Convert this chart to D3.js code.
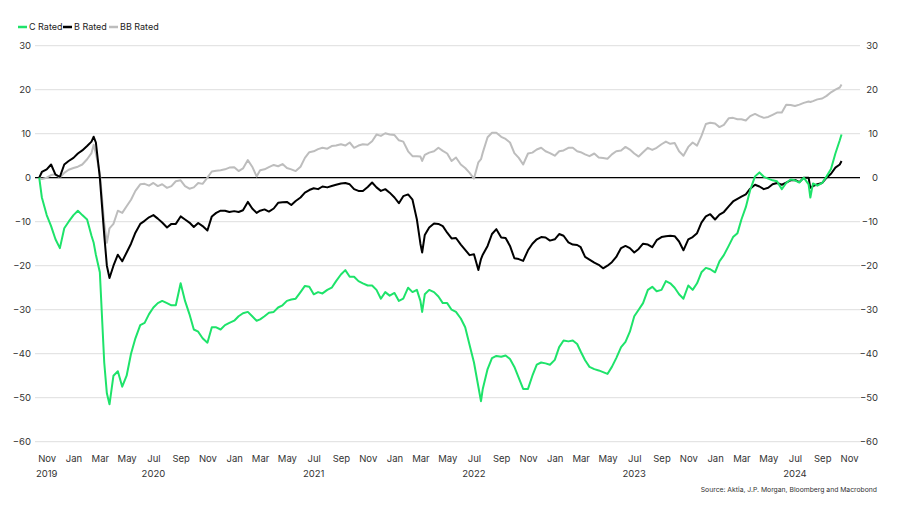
<!DOCTYPE html>
<html>
<head>
<meta charset="utf-8">
<script src="https://cdn.jsdelivr.net/npm/d3@7"></script>
<style>
  html, body { margin: 0; padding: 0; background: #fff; }
  svg { display: block; font-family: Inter, "Noto Sans", sans-serif; }
</style>
</head>
<body>
<svg id="chart" width="917" height="522"></svg>
<script>
// ---------------- DATA ----------------
const seriesNames = ["C Rated", "B Rated", "BB Rated"];
const seriesColors = ["#1ee36a", "#000000", "#bdbdbd"];

const dates = [
  // 2019
  "2019-10-15","2019-10-21","2019-11-01","2019-11-11","2019-11-21","2019-12-01","2019-12-11","2019-12-21",
  // 2020
  "2020-01-01","2020-01-11","2020-01-21","2020-02-01","2020-02-11","2020-02-16","2020-02-21",
  "2020-03-01","2020-03-11","2020-03-17","2020-03-23","2020-04-01","2020-04-11","2020-04-21",
  "2020-05-01","2020-05-11","2020-05-21","2020-06-01","2020-06-11","2020-06-21",
  "2020-07-01","2020-07-11","2020-07-21","2020-08-01","2020-08-11","2020-08-21",
  "2020-09-01","2020-09-11","2020-09-21","2020-10-01","2020-10-11","2020-10-21",
  "2020-11-01","2020-11-11","2020-11-21","2020-12-01","2020-12-11","2020-12-21",
  // 2021
  "2021-01-01","2021-01-11","2021-01-21","2021-02-01","2021-02-11","2021-02-21",
  "2021-03-01","2021-03-11","2021-03-21","2021-04-01","2021-04-11","2021-04-21",
  "2021-05-01","2021-05-11","2021-05-21","2021-06-01","2021-06-11","2021-06-21",
  "2021-07-01","2021-07-11","2021-07-21","2021-08-01","2021-08-11","2021-08-21",
  "2021-09-01","2021-09-11","2021-09-21","2021-10-01","2021-10-11","2021-10-21",
  "2021-11-01","2021-11-11","2021-11-21","2021-12-01","2021-12-11","2021-12-21",
  // 2022
  "2022-01-01","2022-01-11","2022-01-21","2022-02-01","2022-02-11","2022-02-21",
  "2022-03-01","2022-03-05","2022-03-11","2022-03-21","2022-04-01","2022-04-11","2022-04-21",
  "2022-05-01","2022-05-11","2022-05-21","2022-06-01","2022-06-11","2022-06-21",
  "2022-07-01","2022-07-11","2022-07-17","2022-07-21","2022-08-01","2022-08-11","2022-08-21",
  "2022-09-01","2022-09-11","2022-09-21","2022-10-01","2022-10-11","2022-10-21",
  "2022-11-01","2022-11-11","2022-11-21","2022-12-01","2022-12-11","2022-12-21",
  // 2023
  "2023-01-01","2023-01-11","2023-01-21","2023-02-01","2023-02-11","2023-02-21",
  "2023-03-01","2023-03-11","2023-03-21","2023-04-01","2023-04-11","2023-04-21",
  "2023-05-01","2023-05-11","2023-05-21","2023-06-01","2023-06-11","2023-06-21",
  "2023-07-01","2023-07-11","2023-07-21","2023-08-01","2023-08-11","2023-08-21",
  "2023-09-01","2023-09-11","2023-09-21","2023-10-01","2023-10-11","2023-10-21",
  "2023-11-01","2023-11-11","2023-11-21","2023-12-01","2023-12-11","2023-12-21",
  // 2024
  "2024-01-01","2024-01-11","2024-01-21","2024-02-01","2024-02-11","2024-02-21",
  "2024-03-01","2024-03-11","2024-03-21","2024-04-01","2024-04-11","2024-04-21",
  "2024-05-01","2024-05-11","2024-05-21","2024-06-01","2024-06-11","2024-06-21",
  "2024-07-01","2024-07-11","2024-07-21","2024-08-01","2024-08-05","2024-08-11","2024-08-21",
  "2024-09-01","2024-09-11","2024-09-21","2024-10-01","2024-10-11","2024-10-15"
];

const cRated = [
  // 2019
  0, -4.5, -8.5, -11, -14, -16, -11.5, -10,
  // 2020
  -8.5, -7.5, -8.5, -9.5, -13.2, -14.8, -17.5,
  -21.5, -42, -49, -51.5, -45, -44, -47.5,
  -45, -40, -36.5, -33.5, -33, -31,
  -29.5, -28.5, -28, -28.5, -29, -29,
  -24, -28, -31, -34.5, -35, -36.5,
  -37.5, -34, -34, -34.5, -33.5, -33,
  // 2021
  -32.5, -31.5, -30.8, -30.5, -31.5, -32.5,
  -32.2, -31.5, -30.7, -30.5, -29.5, -29,
  -28, -27.7, -27.5, -26, -24.6, -24.8,
  -26.5, -26, -26.3, -25.5, -25, -23.5,
  -22, -21, -22.5, -22.5, -23.5, -24,
  -24.5, -24.5, -25.5, -27.5, -26, -26.8,
  // 2022
  -26.2, -28, -27.5, -25, -26, -25.5,
  -28, -30.5, -26.5, -25.5, -26, -27, -28.5,
  -28.5, -30, -30.5, -32, -34, -38,
  -42, -47.5, -50.8, -48, -43.5, -41, -40.5,
  -40.7, -40.4, -41.2, -43, -45.5, -48,
  -48, -45, -42.5, -42, -42.2, -42.5,
  // 2023
  -41.4, -38.5, -37, -37.2, -37, -37.8,
  -39.5, -41.5, -43, -43.5, -43.8, -44.2,
  -44.6, -43, -41, -38.5, -37.3, -35,
  -31.5, -30, -28.5, -25.5, -24.8, -25.8,
  -25.5, -23.5, -24, -25, -26.5, -27.5,
  -24.5, -25.5, -24, -21.5, -20.5, -20.8,
  // 2024
  -21.5, -19, -17.6, -15.5, -13.5, -12.6,
  -9.5, -6.7, -2.8, 0.3, 1.2, 0.2,
  -0.2, -0.6, -0.8, -2.6, -1.2, -0.4,
  -0.6, -1.1, 0, -1.5, -4.5, -1.3, -1.8,
  -1.2, 0.3, 2, 5.5, 8.5, 9.8
];

const bRated = [
  // 2019
  0, 1.3, 1.9, 3.0, 0.7, 0.2, 3.0, 3.8,
  // 2020
  4.5, 5.5, 6.2, 7.2, 8.2, 9.3, 8.0,
  0, -13, -20, -22.8, -20, -17.5, -19,
  -17, -15, -12.5, -10.5, -9.8, -9,
  -8.5, -9.3, -10.2, -11.3, -10.5, -10.5,
  -8.8, -9.5, -10.2, -11.2, -10.3, -11,
  -12, -8.8, -8, -7.5, -7.5, -7.8,
  // 2021
  -7.6, -7.8, -7.4, -5.5, -7, -8,
  -7.5, -7.2, -7.7, -7, -5.7, -5.6,
  -5.5, -6.2, -5.3, -4.5, -3.4, -2.8,
  -2.4, -2.6, -2.0, -2.2, -1.9, -1.6,
  -1.3, -1.2, -1.5, -2.6, -3.0, -3.0,
  -2.1, -1.1, -2.2, -3.0, -2.6, -3.4,
  // 2022
  -4.5, -5.8, -4.2, -3.8, -5, -9.5,
  -15, -17, -13, -11.3, -10.4, -10.5, -11,
  -12.5, -13.8, -13.7, -15.2, -16.4, -17.6,
  -17.4, -21, -18.5, -17.5, -15.5, -12.8, -11.7,
  -13.6, -13.7, -15.5, -18.3, -18.5, -18.9,
  -16.5, -15, -14, -13.5, -13.6, -14.3,
  // 2023
  -14, -12.8, -13.2, -14.7, -15.2, -15.3,
  -15.8, -18, -18.6, -19.3, -19.8, -20.6,
  -20, -19.2, -18, -16, -15.5, -16,
  -17, -16.2, -15, -15.2, -15.8, -14.2,
  -13.5, -13.3, -13.2, -13.3, -14.5, -16.5,
  -14, -13.5, -12.6, -10.2, -8.8, -8.3,
  // 2024
  -9.5, -8.4, -7.8, -6.5, -5.4, -4.8,
  -4.3, -3.8, -2.5, -1.6, -2.0, -2.6,
  -2.3, -1.5, -1.2, -1.6, -1.1, -0.6,
  -0.5, -1.0, 0, 0, -2.3, -1.9, -1.5,
  -1.2, 0, 0.9, 2.3, 3.0, 3.8
];

const bbRated = [
  // 2019
  0, -0.3, 0, 0.6, 0.8, 0, 1.1, 1.8,
  // 2020
  2.2, 2.5, 3.0, 4.2, 5.6, 7.5, 5.5,
  1.1, -10.3, -14.8, -11.5, -10.5, -7.5, -8,
  -6.5, -5, -3, -1.5, -1.4, -1.8,
  -1.2, -1.9, -1.5, -2.3, -1.9, -0.8,
  -0.6, -1.9, -2.5, -2.2, -1.2, -1.4,
  0, 1.4, 1.6, 1.7, 1.9, 2.3,
  // 2021
  2.4, 1.5, 2.1, 4.0, 2.5, 0.3,
  1.7, 1.9, 2.4, 2.9, 2.6, 3.1,
  2.2, 1.9, 1.5, 2.5, 4.5, 5.8,
  6.0, 6.5, 6.8, 6.6, 7.2, 7.3,
  7.6, 7.3, 8.0, 6.8, 7.3, 7.6,
  7.5, 8.3, 9.8, 9.5, 10.1, 9.8,
  // 2022
  9.7, 8.5, 8.2, 6.0, 4.9, 4.9,
  4.8, 3.8, 5.2, 5.7, 6.0, 6.8, 6.1,
  5.5, 3.8, 4.6, 3.0, 2.2, 1.1,
  -0.2, 3.5, 4.2, 5.7, 9.2, 10.2, 10.2,
  9.3, 8.8, 8.0, 5.6, 4.5, 3.0,
  5.5, 5.7, 6.4, 6.8, 6.0, 5.6,
  // 2023
  5.0, 6.0, 6.2, 6.8, 6.8, 6.0,
  5.8, 5.3, 4.9, 5.5, 4.6, 4.5,
  4.3, 5.3, 6.0, 6.2, 7.0, 6.4,
  5.5, 4.8, 5.8, 6.8, 6.3, 6.8,
  7.6, 8.2, 7.7, 7.9, 6.0, 5.0,
  7.0, 8.0, 7.3, 9.5, 12.2, 12.5,
  // 2024
  12.3, 11.5, 12.0, 13.5, 13.6, 13.3,
  13.3, 13.0, 14.0, 14.5, 14.0, 13.6,
  13.8, 14.3, 14.8, 14.8, 16.6, 16.5,
  16.3, 16.6, 17.0, 17.3, 17.2, 17.4, 17.8,
  18.0, 18.6, 19.4, 20.0, 20.5, 21.2
];

const yTicks = [30, 20, 10, 0, -10, -20, -30, -40, -50, -60];
const yearLabels = [
  ["2019-11-01", "2019"], ["2020-07-01", "2020"], ["2021-07-01", "2021"],
  ["2022-07-01", "2022"], ["2023-07-01", "2023"], ["2024-07-01", "2024"]
];
const sourceText = "Source: Aktia, J.P. Morgan, Bloomberg and Macrobond";

// ---------------- CHART ----------------
const svg = d3.select("#chart");
const parse = d3.utcParse("%Y-%m-%d");
const plotLeft = 35, plotRight = 860;

const x = d3.scaleUtc()
  .domain([parse("2019-11-01"), parse("2024-11-01")])
  .range([46.7, 849]);
const y = d3.scaleLinear().domain([-60, 30]).range([441.7, 45.7]);

// gridlines
svg.append("g").selectAll("line").data(yTicks).join("line")
  .attr("x1", plotLeft).attr("x2", plotRight)
  .attr("y1", d => y(d)).attr("y2", d => y(d))
  .attr("stroke", "#dedede").attr("stroke-width", 1);

// Y axes
const axisLeft = d3.axisLeft(y).tickValues(yTicks).tickSize(0).tickPadding(0);
const gL = svg.append("g").attr("transform", "translate(31,0)").call(axisLeft);
const axisRight = d3.axisRight(y).tickValues(yTicks).tickSize(0).tickPadding(0);
const gR = svg.append("g").attr("transform", "translate(878,0)").call(axisRight);
gR.selectAll("text").attr("text-anchor", "end");
[gL, gR].forEach(g => {
  g.select(".domain").remove();
  g.selectAll("text").attr("font-family", "Inter, 'Noto Sans', sans-serif")
    .attr("font-size", 9.5).attr("fill", "#333");
});

// X axis
const monthTicks = d3.utcMonth.every(2).range(parse("2019-11-01"), parse("2024-11-02"));
const axisBottom = d3.axisBottom(x).tickValues(monthTicks).tickSize(0).tickPadding(0)
  .tickFormat(d3.utcFormat("%b"));
const gB = svg.append("g").attr("transform", "translate(0,455)").call(axisBottom);
gB.select(".domain").remove();
gB.selectAll("text").attr("font-family", "Inter, 'Noto Sans', sans-serif")
  .attr("font-size", 9.5).attr("fill", "#333");

svg.append("g").selectAll("text").data(yearLabels).join("text")
  .attr("x", d => x(parse(d[0]))).attr("y", 476.5)
  .attr("text-anchor", "middle")
  .attr("font-size", 9.5).attr("fill", "#333")
  .text(d => d[1]);

// zero line
svg.append("line")
  .attr("x1", plotLeft).attr("x2", plotRight)
  .attr("y1", y(0)).attr("y2", y(0))
  .attr("stroke", "#000").attr("stroke-width", 1.3);

// series lines
const parsedDates = dates.map(parse);
const allSeries = [bbRated, bRated, cRated];
const drawOrder = [2, 1, 0];
const line = d3.line().x(d => x(d[0])).y(d => y(d[1])).curve(d3.curveLinear);
drawOrder.forEach(i => {
  const vals = [cRated, bRated, bbRated][i];
  if (vals.length !== parsedDates.length) console.warn(seriesNames[i], vals.length, parsedDates.length);
  const pts = parsedDates.map((d, k) => [d, vals[k]]).filter(p => p[1] !== undefined);
  svg.append("path").datum(pts)
    .attr("d", line)
    .attr("fill", "none")
    .attr("stroke", seriesColors[i])
    .attr("stroke-width", 2)
    .attr("stroke-linejoin", "round");
});

// legend
const legendX = [18, 63, 109];
const lg = svg.append("g");
seriesNames.forEach((n, i) => {
  lg.append("line").attr("x1", legendX[i]).attr("x2", legendX[i] + 9)
    .attr("y1", 27).attr("y2", 27)
    .attr("stroke", seriesColors[i]).attr("stroke-width", 2.5);
  lg.append("text").attr("x", legendX[i] + 11).attr("y", 30.3)
    .attr("font-size", 9).attr("fill", "#222").text(n);
});

// source
svg.append("text").attr("x", 877).attr("y", 491.5)
  .attr("text-anchor", "end").attr("font-size", 6.8).attr("fill", "#333")
  .text(sourceText);
</script>
</body>
</html>
